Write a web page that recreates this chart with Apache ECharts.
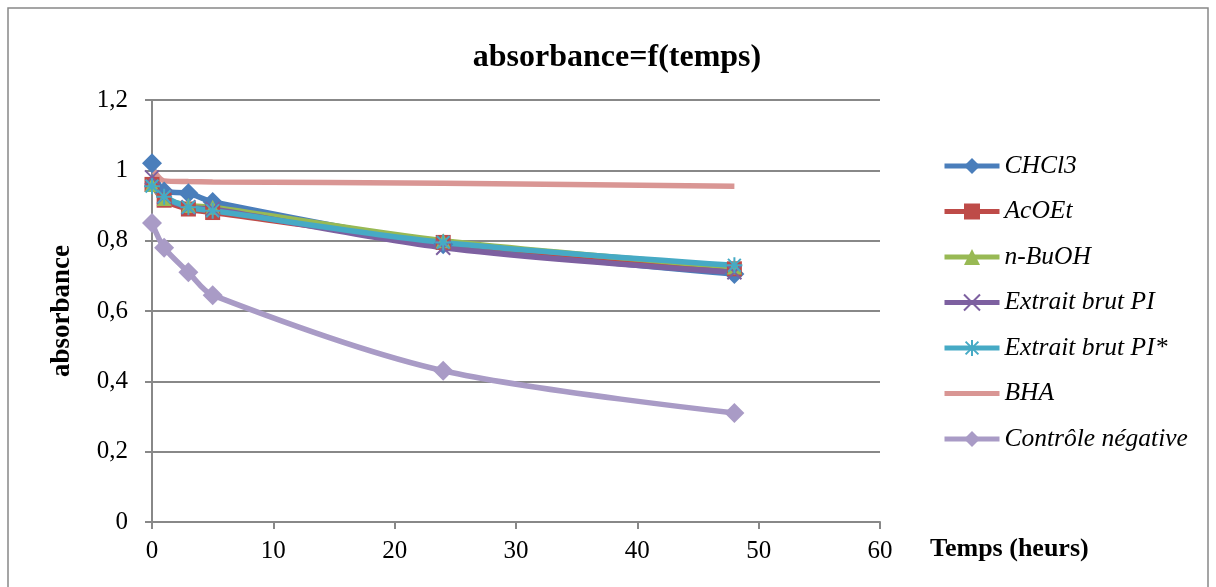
<!DOCTYPE html>
<html>
<head>
<meta charset="utf-8">
<script src="https://cdn.jsdelivr.net/npm/echarts@6/dist/echarts.min.js"></script>
<style>
  html, body { margin: 0; padding: 0; background: #fff; }
  #main { width: 1216px; height: 587px; }
</style>
</head>
<body>
<div id="main"></div>
<script>
// temps (heures)
var temps = [0, 1, 3, 5, 24, 48];

var chcl3 = [1.02, 0.94, 0.935, 0.91, 0.79, 0.705];
var acoet = [0.96, 0.915, 0.89, 0.88, 0.795, 0.72];
var nbuoh = [0.96, 0.92, 0.90, 0.895, 0.80, 0.725];
var brutPI = [0.98, 0.925, 0.895, 0.89, 0.78, 0.71];
var brutPI2 = [0.955, 0.925, 0.895, 0.885, 0.795, 0.73];
var bha = [1.005, 0.97, 0.968, 0.967, 0.963, 0.955];
var controle = [0.85, 0.78, 0.71, 0.645, 0.43, 0.31];

var yTicks = ['0', '0,2', '0,4', '0,6', '0,8', '1', '1,2'];

function pts(arr) {
  return temps.map(function (t, i) { return [t, arr[i]]; });
}

var serif = 'Liberation Serif, Times New Roman, serif';
var gris = '#888888';

var myChart = echarts.init(document.getElementById('main'));

function serie(nom, data, couleur, symbole, taille, extra) {
  var s = {
    name: nom,
    type: 'line',
    smooth: 0.3,
    data: pts(data),
    symbol: symbole,
    symbolSize: taille,
    showSymbol: symbole !== 'none',
    lineStyle: { color: couleur, width: 5.5 },
    itemStyle: { color: couleur },
    emphasis: { disabled: true },
    z: 3
  };
  if (extra) {
    for (var k in extra) s[k] = extra[k];
  }
  return s;
}

var croix = 'path://M0,0L10,10M10,0L0,10';
var etoile = 'path://M5,0L5,10M0,5L10,5M1,1L9,9M9,1L1,9';

var option = {
  animation: false,
  title: {
    text: 'absorbance=f(temps)',
    left: 612,
    textAlign: 'center',
    top: 37,
    textStyle: { fontFamily: serif, fontSize: 32, fontWeight: 'bold', color: '#000' }
  },
  graphic: [{
    type: 'rect',
    shape: { x: 8, y: 8, width: 1200, height: 600 },
    style: { fill: 'none', stroke: gris, lineWidth: 1.5 },
    silent: true
  }],
  legend: {
    orient: 'vertical',
    left: 942,
    top: 153,
    padding: 0,
    itemGap: 19.5,
    itemWidth: 55,
    itemHeight: 20,
    lineStyle: { width: 5 },
    textStyle: { fontFamily: serif, fontSize: 25.5, fontStyle: 'italic', color: '#000' },
    data: ['CHCl3', 'AcOEt', 'n-BuOH', 'Extrait brut PI', 'Extrait brut PI*',
      { name: 'BHA', itemStyle: { opacity: 0 } }, 'Contrôle négative']
  },
  grid: { left: 152, right: 336, top: 100, bottom: 65 },
  xAxis: {
    type: 'value',
    min: 0,
    max: 60,
    interval: 10,
    name: 'Temps (heurs)',
    nameLocation: 'end',
    nameGap: 50,
    nameTextStyle: {
      fontFamily: serif, fontSize: 26, fontWeight: 'bold', color: '#000',
      align: 'left', verticalAlign: 'top', padding: [14, 0, 0, 0]
    },
    axisLine: { lineStyle: { color: gris, width: 2 } },
    axisTick: { show: true, length: 7, lineStyle: { color: gris, width: 2 } },
    axisLabel: { fontFamily: serif, fontSize: 25, color: '#000', margin: 17 },
    splitLine: { show: false }
  },
  yAxis: {
    type: 'value',
    min: 0,
    max: 1.2,
    interval: 0.2,
    name: 'absorbance',
    nameLocation: 'middle',
    nameGap: 76,
    nameRotate: 90,
    nameTextStyle: { fontFamily: serif, fontSize: 27, fontWeight: 'bold', color: '#000' },
    axisLine: { show: true, lineStyle: { color: gris, width: 2 } },
    axisTick: { show: true, length: 7, lineStyle: { color: gris, width: 2 } },
    axisLabel: {
      fontFamily: serif, fontSize: 25, color: '#000', margin: 24,
      formatter: function (v) { return yTicks[Math.round(v / 0.2)]; }
    },
    splitLine: { show: true, lineStyle: { color: gris, width: 2 } }
  },
  series: [
    serie('CHCl3', chcl3, '#4A7EBB', 'diamond', 20),
    serie('AcOEt', acoet, '#BE4B48', 'rect', 15),
    serie('n-BuOH', nbuoh, '#98B954', 'triangle', 15),
    serie('Extrait brut PI', brutPI, '#7D60A0', croix, 14, {
      itemStyle: { color: '#7D60A0', borderColor: '#7D60A0', borderWidth: 2 }
    }),
    serie('Extrait brut PI*', brutPI2, '#46AAC5', etoile, 16, {
      itemStyle: { color: '#46AAC5', borderColor: '#46AAC5', borderWidth: 2 }
    }),
    serie('BHA', bha, '#D99694', 'none', 0),
    serie('Contrôle négative', controle, '#A99BC6', 'diamond', 20)
  ]
};

myChart.setOption(option);
</script>
</body>
</html>
